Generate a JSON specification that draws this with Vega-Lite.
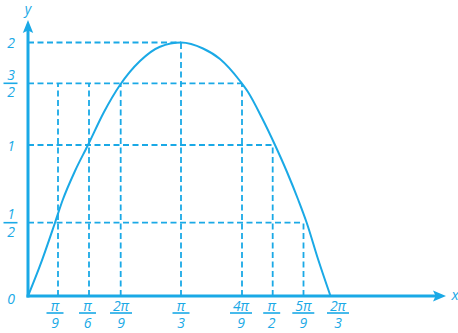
{
  "$schema": "https://vega.github.io/schema/vega-lite/v6.json",
  "width": 418,
  "height": 276,
  "autosize": "none",
  "padding": {"left": 28, "top": 20, "right": 12, "bottom": 37},
  "background": "white",
  "config": {"view": {"stroke": null}},
  "datasets": {
    "curve": [
      {"u": 0, "v": 0}, {"u": 12, "v": 30.3}, {"u": 27, "v": 73.3}, {"u": 34.7, "v": 96},
      {"u": 47, "v": 125}, {"u": 60, "v": 151}, {"u": 76, "v": 184}, {"u": 92, "v": 211},
      {"u": 112, "v": 235}, {"u": 132, "v": 249.3}, {"u": 153, "v": 253.5}, {"u": 175, "v": 247.5},
      {"u": 192, "v": 237}, {"u": 212, "v": 215}, {"u": 220, "v": 204}, {"u": 234, "v": 178},
      {"u": 247, "v": 151}, {"u": 259, "v": 124}, {"u": 270.3, "v": 96}, {"u": 278.7, "v": 73.3},
      {"u": 290, "v": 37}, {"u": 302.5, "v": 0}
    ],
    "guides": [
      {"id": "h2", "u": 0, "v": 253.5}, {"id": "h2", "u": 153, "v": 253.5},
      {"id": "h32", "u": 0, "v": 212.7}, {"id": "h32", "u": 214, "v": 212.7},
      {"id": "h1", "u": 0, "v": 151}, {"id": "h1", "u": 244.7, "v": 151},
      {"id": "h12", "u": 0, "v": 73.3}, {"id": "h12", "u": 275.5, "v": 73.3},
      {"id": "v1", "u": 30, "v": 0}, {"id": "v1", "u": 30, "v": 212.7},
      {"id": "v2", "u": 61, "v": 0}, {"id": "v2", "u": 61, "v": 212.7},
      {"id": "v3", "u": 92.7, "v": 0}, {"id": "v3", "u": 92.7, "v": 212.7},
      {"id": "v4", "u": 153, "v": 0}, {"id": "v4", "u": 153, "v": 253.5},
      {"id": "v5", "u": 214, "v": 0}, {"id": "v5", "u": 214, "v": 212.7},
      {"id": "v6", "u": 244.7, "v": 0}, {"id": "v6", "u": 244.7, "v": 151},
      {"id": "v7", "u": 275.5, "v": 0}, {"id": "v7", "u": 275.5, "v": 73.3}
    ],
    "axes": [
      {"id": "x", "u": -1.5, "v": 0}, {"id": "x", "u": 410, "v": 0},
      {"id": "y", "u": 0, "v": -1.5}, {"id": "y", "u": 0, "v": 269}
    ],
    "xfrac": [
      {"u": 27, "num": "π", "den": "9"}, {"u": 59.5, "num": "π", "den": "6"}, {"u": 93, "num": "2π", "den": "9"},
      {"u": 153, "num": "π", "den": "3"}, {"u": 213, "num": "4π", "den": "9"}, {"u": 243.7, "num": "π", "den": "2"},
      {"u": 275.3, "num": "5π", "den": "9"}, {"u": 310, "num": "2π", "den": "3"}
    ],
    "yfrac": [
      {"v": 212.7, "num": "3", "den": "2"}, {"v": 73.3, "num": "1", "den": "2"}
    ],
    "yint": [
      {"v": 253.5, "t": "2"}, {"v": 151, "t": "1"}
    ]
  },
  "layer": [
    {
      "data": {"name": "guides"},
      "mark": {"type": "line", "color": "#1aa9e6", "strokeWidth": 1.8, "strokeDash": [6, 3.5]},
      "encoding": {
        "x": {"field": "u", "type": "quantitative", "scale": {"domain": [0, 418], "nice": false, "zero": false}, "axis": null},
        "y": {"field": "v", "type": "quantitative", "scale": {"domain": [0, 276], "nice": false, "zero": false}, "axis": null},
        "detail": {"field": "id"}
      }
    },
    {
      "data": {"name": "curve"},
      "mark": {"type": "line", "color": "#1aa9e6", "strokeWidth": 2, "interpolate": "monotone"},
      "encoding": {
        "x": {"field": "u", "type": "quantitative", "scale": {"domain": [0, 418], "nice": false, "zero": false}, "axis": null},
        "y": {"field": "v", "type": "quantitative", "scale": {"domain": [0, 276], "nice": false, "zero": false}, "axis": null}
      }
    },
    {
      "data": {"name": "axes"},
      "mark": {"type": "line", "color": "#1aa9e6", "strokeWidth": 3},
      "encoding": {
        "x": {"field": "u", "type": "quantitative", "scale": {"domain": [0, 418], "nice": false, "zero": false}, "axis": null},
        "y": {"field": "v", "type": "quantitative", "scale": {"domain": [0, 276], "nice": false, "zero": false}, "axis": null},
        "detail": {"field": "id"}
      }
    },
    {
      "data": {"values": [{"u": 418, "v": 0}]},
      "mark": {"type": "point", "filled": true, "fill": "#1aa9e6", "opacity": 1, "strokeWidth": 0, "size": 169, "shape": "M0,0L-2,-0.85L-1.6,0L-2,0.85Z"},
      "encoding": {
        "x": {"field": "u", "type": "quantitative", "scale": {"domain": [0, 418], "nice": false, "zero": false}, "axis": null},
        "y": {"field": "v", "type": "quantitative", "scale": {"domain": [0, 276], "nice": false, "zero": false}, "axis": null}
      }
    },
    {
      "data": {"values": [{"u": 0, "v": 276}]},
      "mark": {"type": "point", "filled": true, "fill": "#1aa9e6", "opacity": 1, "strokeWidth": 0, "size": 169, "shape": "M0,0L-0.8,2L0,1.6L0.8,2Z"},
      "encoding": {
        "x": {"field": "u", "type": "quantitative", "scale": {"domain": [0, 418], "nice": false, "zero": false}, "axis": null},
        "y": {"field": "v", "type": "quantitative", "scale": {"domain": [0, 276], "nice": false, "zero": false}, "axis": null}
      }
    },
    {
      "data": {"values": [{"u": 427, "v": 0, "t": "x"}]},
      "mark": {"type": "text", "font": "Open Sans", "fontStyle": "italic", "fontWeight": 500, "fontSize": 15, "fill": "#1aa9e6", "align": "center", "baseline": "alphabetic", "dy": 3.5},
      "encoding": {
        "x": {"field": "u", "type": "quantitative", "scale": {"domain": [0, 418], "nice": false, "zero": false}, "axis": null},
        "y": {"field": "v", "type": "quantitative", "scale": {"domain": [0, 276], "nice": false, "zero": false}, "axis": null},
        "text": {"field": "t", "type": "nominal"}
      }
    },
    {
      "data": {"values": [{"u": 0, "v": 276, "t": "y"}]},
      "mark": {"type": "text", "font": "Open Sans", "fontStyle": "italic", "fontWeight": 500, "fontSize": 14, "fill": "#1aa9e6", "align": "center", "baseline": "alphabetic", "dy": -6},
      "encoding": {
        "x": {"field": "u", "type": "quantitative", "scale": {"domain": [0, 418], "nice": false, "zero": false}, "axis": null},
        "y": {"field": "v", "type": "quantitative", "scale": {"domain": [0, 276], "nice": false, "zero": false}, "axis": null},
        "text": {"field": "t", "type": "nominal"}
      }
    },
    {
      "data": {"values": [{"u": 0, "v": 0, "t": "0"}]},
      "mark": {"type": "text", "font": "Open Sans", "fontStyle": "italic", "fontWeight": 500, "fontSize": 14, "fill": "#1aa9e6", "align": "center", "baseline": "alphabetic", "dx": -17, "dy": 8},
      "encoding": {
        "x": {"field": "u", "type": "quantitative", "scale": {"domain": [0, 418], "nice": false, "zero": false}, "axis": null},
        "y": {"field": "v", "type": "quantitative", "scale": {"domain": [0, 276], "nice": false, "zero": false}, "axis": null},
        "text": {"field": "t", "type": "nominal"}
      }
    },
    {
      "data": {"name": "yint"},
      "mark": {"type": "text", "font": "Open Sans", "fontStyle": "italic", "fontWeight": 500, "fontSize": 14, "fill": "#1aa9e6", "align": "center", "baseline": "alphabetic", "dx": -17, "dy": 5.5},
      "encoding": {
        "x": {"datum": 0, "type": "quantitative", "scale": {"domain": [0, 418], "nice": false, "zero": false}, "axis": null},
        "y": {"field": "v", "type": "quantitative", "scale": {"domain": [0, 276], "nice": false, "zero": false}, "axis": null},
        "text": {"field": "t", "type": "nominal"}
      }
    },
    {
      "data": {"name": "yfrac"},
      "mark": {"type": "text", "font": "Open Sans", "fontStyle": "italic", "fontWeight": 500, "fontSize": 14, "fill": "#1aa9e6", "align": "center", "baseline": "alphabetic", "dx": -17, "dy": -3.5},
      "encoding": {
        "x": {"datum": 0, "type": "quantitative", "scale": {"domain": [0, 418], "nice": false, "zero": false}, "axis": null},
        "y": {"field": "v", "type": "quantitative", "scale": {"domain": [0, 276], "nice": false, "zero": false}, "axis": null},
        "text": {"field": "num", "type": "nominal"}
      }
    },
    {
      "data": {"name": "yfrac"},
      "mark": {"type": "text", "font": "Open Sans", "fontStyle": "italic", "fontWeight": 500, "fontSize": 14, "fill": "#1aa9e6", "align": "center", "baseline": "alphabetic", "dx": -17, "dy": 14},
      "encoding": {
        "x": {"datum": 0, "type": "quantitative", "scale": {"domain": [0, 418], "nice": false, "zero": false}, "axis": null},
        "y": {"field": "v", "type": "quantitative", "scale": {"domain": [0, 276], "nice": false, "zero": false}, "axis": null},
        "text": {"field": "den", "type": "nominal"}
      }
    },
    {
      "data": {"name": "yfrac"},
      "mark": {"type": "tick", "orient": "horizontal", "color": "#1aa9e6", "opacity": 1, "size": 14, "thickness": 1.6, "xOffset": -17.5},
      "encoding": {
        "x": {"datum": 0, "type": "quantitative", "scale": {"domain": [0, 418], "nice": false, "zero": false}, "axis": null},
        "y": {"field": "v", "type": "quantitative", "scale": {"domain": [0, 276], "nice": false, "zero": false}, "axis": null}
      }
    },
    {
      "data": {"name": "xfrac"},
      "mark": {"type": "text", "font": "Open Sans", "fontStyle": "italic", "fontWeight": 500, "fontSize": 14, "fill": "#1aa9e6", "align": "center", "baseline": "alphabetic", "dy": 14.5},
      "encoding": {
        "x": {"field": "u", "type": "quantitative", "scale": {"domain": [0, 418], "nice": false, "zero": false}, "axis": null},
        "y": {"datum": 0, "type": "quantitative", "scale": {"domain": [0, 276], "nice": false, "zero": false}, "axis": null},
        "text": {"field": "num", "type": "nominal"}
      }
    },
    {
      "data": {"name": "xfrac"},
      "mark": {"type": "text", "font": "Open Sans", "fontStyle": "italic", "fontWeight": 500, "fontSize": 14, "fill": "#1aa9e6", "align": "center", "baseline": "alphabetic", "dy": 32},
      "encoding": {
        "x": {"field": "u", "type": "quantitative", "scale": {"domain": [0, 418], "nice": false, "zero": false}, "axis": null},
        "y": {"datum": 0, "type": "quantitative", "scale": {"domain": [0, 276], "nice": false, "zero": false}, "axis": null},
        "text": {"field": "den", "type": "nominal"}
      }
    },
    {
      "data": {"name": "xfrac"},
      "transform": [{"filter": "length(datum.num) == 1"}],
      "mark": {"type": "tick", "orient": "horizontal", "color": "#1aa9e6", "opacity": 1, "size": 17, "thickness": 1.6, "yOffset": 17},
      "encoding": {
        "x": {"field": "u", "type": "quantitative", "scale": {"domain": [0, 418], "nice": false, "zero": false}, "axis": null},
        "y": {"datum": 0, "type": "quantitative", "scale": {"domain": [0, 276], "nice": false, "zero": false}, "axis": null}
      }
    },
    {
      "data": {"name": "xfrac"},
      "transform": [{"filter": "length(datum.num) > 1"}],
      "mark": {"type": "tick", "orient": "horizontal", "color": "#1aa9e6", "opacity": 1, "size": 22, "thickness": 1.6, "yOffset": 17},
      "encoding": {
        "x": {"field": "u", "type": "quantitative", "scale": {"domain": [0, 418], "nice": false, "zero": false}, "axis": null},
        "y": {"datum": 0, "type": "quantitative", "scale": {"domain": [0, 276], "nice": false, "zero": false}, "axis": null}
      }
    }
  ]
}
